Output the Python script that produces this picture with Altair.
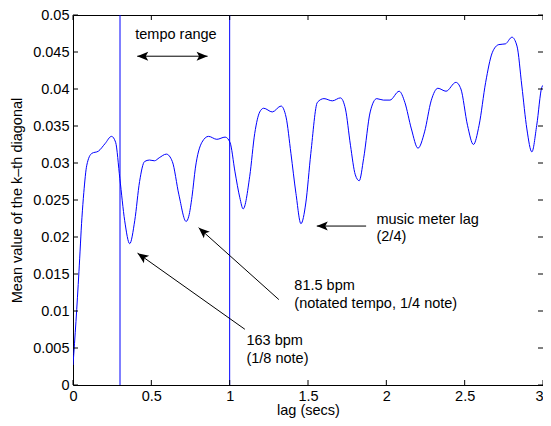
import math
import altair as alt
import pandas as pd

# ---- data ----
lag = [0.000, 0.019, 0.038, 0.057, 0.069, 0.088, 0.120, 0.162, 0.204, 0.246, 0.272,
       0.299, 0.330, 0.362, 0.394, 0.425, 0.457, 0.488, 0.520, 0.550, 0.596, 0.634,
       0.676, 0.722, 0.739, 0.760, 0.781, 0.823, 0.865, 0.918, 0.971, 1.002, 1.034,
       1.065, 1.086, 1.128, 1.160, 1.192, 1.217, 1.272, 1.328, 1.360, 1.391, 1.423,
       1.455, 1.486, 1.518, 1.560, 1.602, 1.655, 1.707, 1.739, 1.771, 1.802, 1.827,
       1.855, 1.897, 1.939, 1.981, 2.023, 2.082, 2.118, 2.160, 2.202, 2.244, 2.286,
       2.329, 2.381, 2.444, 2.476, 2.518, 2.556, 2.592, 2.634, 2.676, 2.718, 2.760,
       2.802, 2.834, 2.865, 2.897, 2.929, 2.960, 2.992, 3.000]
mean_diag = [0.0027, 0.0086, 0.0153, 0.0226, 0.0260, 0.0297, 0.0313, 0.0316, 0.0326, 0.0336, 0.0328,
             0.0279, 0.0222, 0.0191, 0.0222, 0.0275, 0.0302, 0.0304, 0.0303, 0.0307, 0.0312, 0.0302,
             0.0257, 0.0221, 0.0228, 0.0255, 0.0293, 0.0328, 0.0336, 0.0332, 0.0335, 0.0328, 0.0288,
             0.0253, 0.0238, 0.0282, 0.0340, 0.0369, 0.0374, 0.0369, 0.0377, 0.0362, 0.0313, 0.0259,
             0.0218, 0.0246, 0.0313, 0.0382, 0.0387, 0.0384, 0.0388, 0.0373, 0.0324, 0.0284, 0.0276,
             0.0306, 0.0369, 0.0387, 0.0385, 0.0385, 0.0397, 0.0382, 0.0346, 0.0320, 0.0342, 0.0384,
             0.0401, 0.0397, 0.0409, 0.0400, 0.0351, 0.0325, 0.0351, 0.0409, 0.0449, 0.0460, 0.0461,
             0.0470, 0.0458, 0.0404, 0.0346, 0.0315, 0.0351, 0.0402, 0.0405]

tempo_bounds = [0.3, 1.0]

x_ticks = [0, 0.5, 1, 1.5, 2, 2.5, 3]
y_ticks = [0, 0.005, 0.01, 0.015, 0.02, 0.025, 0.03, 0.035, 0.04, 0.045, 0.05]

# annotation texts
label_title = ["tempo range"]
label_title_x = [0.657]
label_title_y = [0.0473]

note_text = ["music meter lag", "(2/4)", "81.5 bpm", "(notated tempo, 1/4 note)", "163 bpm", "(1/8 note)"]
note_x = [1.937, 1.937, 1.413, 1.413, 1.107, 1.107]
note_y = [0.02223, 0.02001, 0.01333, 0.0110, 0.00588, 0.00352]

# arrows: tail -> head
arrow_x1 = [0.859, 1.871, 1.314, 1.097]
arrow_y1 = [0.04443, 0.02148, 0.01154, 0.00753]
arrow_x2 = [0.410, 1.556, 0.802, 0.412]
arrow_y2 = [0.04443, 0.02148, 0.02126, 0.01782]

# ---- chart ----
W, H = 470, 370
XMAX, YMAX = 3.0, 0.05
FONT = "Liberation Sans"
FS = 14.5
TICK = 5

kx, ky = W / XMAX, H / YMAX


def head_angle(x_from, y_from, x_to, y_to):
    dx = (x_to - x_from) * kx
    dy = -(y_to - y_from) * ky
    return math.degrees(math.atan2(dx, -dy)) % 360


heads = []
for a, b, c, d in zip(arrow_x1, arrow_y1, arrow_x2, arrow_y2):
    heads.append({"x": c, "y": d, "ang": head_angle(a, b, c, d)})
heads.append({"x": arrow_x1[0], "y": arrow_y1[0],
              "ang": head_angle(arrow_x2[0], arrow_y2[0], arrow_x1[0], arrow_y1[0])})

df_curve = pd.DataFrame({"lag": lag, "val": mean_diag})
df_bounds = pd.DataFrame({"lag": tempo_bounds})
df_arrows = pd.DataFrame({"x1": arrow_x1, "y1": arrow_y1, "x2": arrow_x2, "y2": arrow_y2})
df_heads = pd.DataFrame(heads)
df_title = pd.DataFrame({"t": label_title, "x": label_title_x, "y": label_title_y})
df_notes = pd.DataFrame({"t": note_text, "x": note_x, "y": note_y})
df_xt = pd.DataFrame({"lag": x_ticks})
df_yt = pd.DataFrame({"val": y_ticks})

xscale = alt.Scale(domain=[0, XMAX], nice=False, zero=False)
yscale = alt.Scale(domain=[0, YMAX], nice=False, zero=False)

x_axis = alt.Axis(values=x_ticks, format="~g", title="lag (secs)",
                  labelAlign=alt.expr(f"datum.value >= {XMAX} ? 'right' : 'center'"))
y_axis = alt.Axis(values=y_ticks, format="~g", title="Mean value of the k\u2013th diagonal")


def X(field):
    return alt.X(field, type="quantitative", scale=xscale, axis=x_axis)


def Y(field):
    return alt.Y(field, type="quantitative", scale=yscale, axis=y_axis)


curve = alt.Chart(df_curve).mark_line(color="#0000ff", strokeWidth=1, interpolate="monotone",
                                      clip=True).encode(x=X("lag"), y=Y("val"))

bounds = alt.Chart(df_bounds).mark_rule(color="#0000ff", strokeWidth=1).encode(x=X("lag"))

# inward tick marks (bottom/top and left/right)
xt_bottom = alt.Chart(df_xt).mark_rule(color="black", strokeWidth=1).encode(
    x=X("lag"), y=alt.value(H), y2=alt.value(H - TICK))
xt_top = alt.Chart(df_xt).mark_rule(color="black", strokeWidth=1).encode(
    x=X("lag"), y=alt.value(0), y2=alt.value(TICK))
yt_left = alt.Chart(df_yt).mark_rule(color="black", strokeWidth=1).encode(
    y=Y("val"), x=alt.value(0), x2=alt.value(TICK))
yt_right = alt.Chart(df_yt).mark_rule(color="black", strokeWidth=1).encode(
    y=Y("val"), x=alt.value(W), x2=alt.value(W - TICK))

arrows = alt.Chart(df_arrows).mark_rule(color="black", strokeWidth=1).encode(
    x=X("x1"), y=Y("y1"), x2="x2:Q", y2="y2:Q",
)

arrow_path = "M0,0 L0.45,1.1 L0,0.85 L-0.45,1.1 Z"
arrowheads = alt.Chart(df_heads).mark_point(shape=arrow_path, filled=True, color="black",
                                            size=400, opacity=1, strokeWidth=0).encode(
    x=X("x"), y=Y("y"), angle=alt.Angle("ang:Q", scale=None),
)

title_txt = alt.Chart(df_title).mark_text(font=FONT, fontSize=FS, color="black",
                                          align="center", baseline="middle").encode(
    x=X("x"), y=Y("y"), text="t:N",
)

notes_txt = alt.Chart(df_notes).mark_text(font=FONT, fontSize=FS, color="black",
                                          align="left", baseline="middle").encode(
    x=X("x"), y=Y("y"), text="t:N",
)

chart = alt.layer(
    curve, bounds, xt_bottom, xt_top, yt_left, yt_right, arrows, arrowheads, title_txt, notes_txt
).properties(
    width=W, height=H, autosize="none",
    padding={"left": 65, "top": 7, "right": 0, "bottom": 410 - 7 - H},
    background="white",
).configure_view(
    stroke="black", strokeWidth=1
).configure_axis(
    grid=False, ticks=False, tickSize=0, domain=False,
    labelFont=FONT, labelFontSize=FS, labelColor="black",
    labelFlush=False, labelOverlap=False,
    titleFont=FONT, titleFontSize=FS, titleFontWeight="normal", titleColor="black",
).configure_axisX(
    labelPadding=4, titlePadding=1
).configure_axisY(
    labelPadding=4, titlePadding=8
)

chart.save("out.html", embed_options={"renderer": "svg", "actions": False})
